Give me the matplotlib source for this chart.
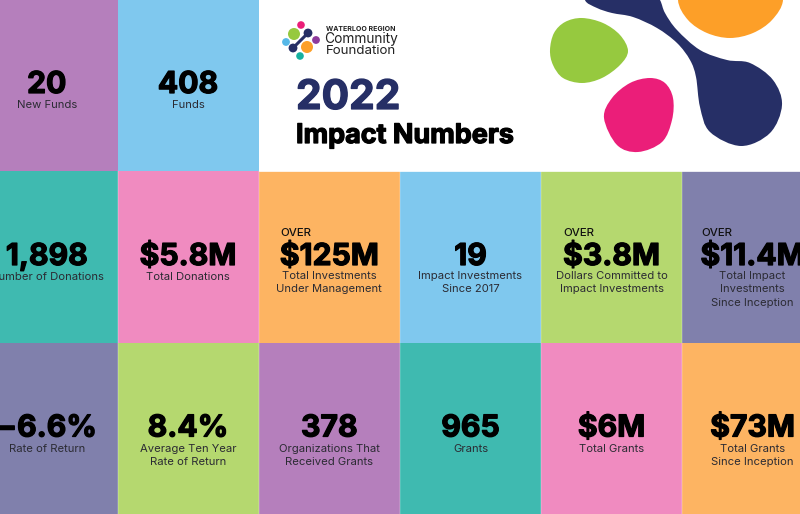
import matplotlib
matplotlib.use("Agg")
import matplotlib.pyplot as plt
import numpy as np
from matplotlib.patches import Rectangle, PathPatch, Circle
from matplotlib.path import Path
import matplotlib.patheffects as pe

PURPLE, BLUE, TEAL, PINK, ORANGE, GREEN, SLATE = "#B57FBC", "#7FC8EE", "#3FBAB0", "#F08BC0", "#FDB462", "#B5D86F", "#8080AC"
NAVY = "#262F66"

col_edges = [-24, 117.5, 258.5, 400, 541, 682, 823]
row_edges = [0, 171, 343, 514]

top_colors = [PURPLE, BLUE]
top_values = ["20", "408"]
top_labels = ["New Funds", "Funds"]

mid_colors = [TEAL, PINK, ORANGE, BLUE, GREEN, SLATE]
mid_values = ["1,898", "$5.8M", "$125M", "19", "$3.8M", "$11.4M"]
mid_labels = ["Number of Donations", "Total Donations", "Total Investments\nUnder Management",
              "Impact Investments\nSince 2017", "Dollars Committed to\nImpact Investments",
              "Total Impact\nInvestments\nSince Inception"]

bot_colors = [SLATE, GREEN, PURPLE, TEAL, PINK, ORANGE]
bot_values = ["\u22126.6%", "8.4%", "378", "965", "$6M", "$73M"]
bot_labels = ["Rate of Return", "Average Ten Year\nRate of Return", "Organizations That\nReceived Grants",
              "Grants", "Total Grants", "Total Grants\nSince Inception"]

fig = plt.figure(figsize=(8, 5.14), dpi=100)
ax = fig.add_axes([0, 0, 1, 1])
ax.set_xlim(0, 800)
ax.set_ylim(514, 0)
ax.axis("off")
FONT = "Inter"


def heavy(x, y, s, size, color="black", ha="center"):
    t = ax.text(x, y, s, fontsize=size, fontfamily=FONT, fontweight="bold", color=color,
                ha=ha, va="center", clip_on=True)
    t.set_path_effects([pe.withStroke(linewidth=0.9, foreground=color)])
    return t


def label(x, y, s, size=8.1):
    return ax.text(x, y, s, fontsize=size, fontfamily=FONT, color="#2b2b33", ha="center", va="top",
                   linespacing=1.42, clip_on=True)


def cell(c, r, color):
    ax.add_patch(Rectangle((col_edges[c], row_edges[r]), col_edges[c + 1] - col_edges[c],
                           row_edges[r + 1] - row_edges[r], fc=color, ec="none"))


def centre(c):
    return (col_edges[c] + col_edges[c + 1]) / 2


def blob(pts, color):
    pts = np.array(pts, float)
    n = len(pts)
    verts = [pts[0]]
    codes = [Path.MOVETO]
    for i in range(n):
        p0, p1, p2, p3 = pts[i - 1], pts[i], pts[(i + 1) % n], pts[(i + 2) % n]
        verts += [p1 + (p2 - p0) / 6, p2 - (p3 - p1) / 6, p2]
        codes += [Path.CURVE4] * 3
    ax.add_patch(PathPatch(Path(verts, codes), fc=color, ec="none", clip_on=True))


# cells
for c in range(2):
    cell(c, 0, top_colors[c])
for c in range(6):
    cell(c, 1, mid_colors[c])
    cell(c, 2, bot_colors[c])
for x in col_edges[1:-1]:
    ax.plot([x, x], [row_edges[1], row_edges[3]], color="white", lw=0.35, alpha=0.6)
ax.plot([258.5, 800], [171, 171], color="white", lw=0.6)

# top row
for c in range(2):
    heavy(centre(c), 85, top_values[c], 21.7)
    label(centre(c), 100, top_labels[c])

# middle row
for c in range(6):
    heavy(centre(c), 257, mid_values[c], 21.7)
    y0 = 272 if "\n" not in mid_labels[c] else 271
    label(centre(c), y0, mid_labels[c])
for x_over, c in zip([280, 563, 701], [2, 4, 5]):
    ax.text(x_over, 233, "OVER", fontsize=8.2, fontfamily=FONT, fontweight="medium", color="#111111",
            ha="left", va="center", clip_on=True)

# bottom row
for c in range(6):
    heavy(centre(c), 428.5, bot_values[c], 21.7)
    label(centre(c), 443.5, bot_labels[c])

# decorative shapes (top right)
navy_pts = [(585, 0), (597, 8), (612, 13), (633, 17), (657, 28), (677, 43), (690, 60), (696, 77), (700, 107),
            (710, 132), (741, 146), (770, 133), (782, 105), (773, 80), (750, 63), (727, 60), (700, 50), (677, 30),
            (665, 13), (660, 0), (650, -15), (590, -15)]
orange_pts = [(678, 0), (688, 20), (707, 33), (730, 38), (753, 33), (772, 20), (783, 0), (775, -25), (730, -40), (685, -25)]
green_pts = [(582, 18), (603, 23), (620, 35), (628, 51), (620, 65), (602, 78), (582, 83), (563, 78), (553, 65),
             (550, 50), (554, 33), (565, 22)]
pink_pts = [(650, 78), (665, 83), (673, 98), (672, 120), (662, 142), (638, 152), (617, 145), (604, 118), (612, 98), (630, 83)]
blob(navy_pts, NAVY)
blob(orange_pts, "#FD9F28")
blob(green_pts, "#96C93F")
blob(pink_pts, "#EB1E79")

# logo
ax.plot([293, 308], [48, 33], color=NAVY, lw=2.2)
logo_x = [301, 294, 308, 316, 307, 286, 293, 300]
logo_y = [25, 34, 33, 40, 47, 42, 48, 56]
logo_r = [3.8, 6, 4.4, 3.9, 6, 3.9, 4.4, 3.8]
logo_c = ["#EB1E79", "#96C93F", NAVY, "#8E3A9D", "#FD9F28", "#56B8E8", NAVY, "#16B0A0"]
for x, y, r, col in zip(logo_x, logo_y, logo_r, logo_c):
    ax.add_patch(Circle((x, y), r, fc=col, ec="none"))

ax.text(325.5, 29, "WATERLOO REGION", fontsize=5, fontfamily=FONT, fontweight="bold", color="#222222", va="center")
ax.text(324, 38.5, "Community", fontsize=9.9, fontfamily=FONT, color="#222222", va="center")
ax.text(325.5, 51, "Foundation", fontsize=9.6, fontfamily=FONT, color="#222222", va="center")

heavy(296, 98, "2022", 29.3, color=NAVY, ha="left")
heavy(296, 136, "Impact Numbers", 19.4, ha="left")

fig.savefig("out.png", dpi=100)
